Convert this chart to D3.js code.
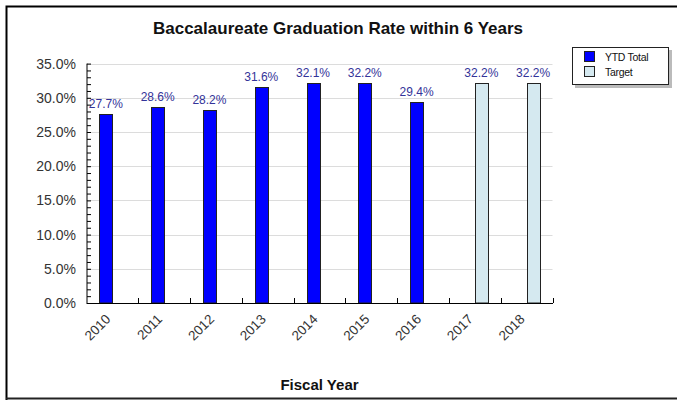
<!DOCTYPE html>
<html><head><meta charset="utf-8">
<script src="https://cdn.jsdelivr.net/npm/d3@7"></script>
<style>body{margin:0;background:#fff}svg{display:block}text{font-family:"Liberation Sans",Arial,sans-serif}</style>
</head><body>
<script>
const years = ["2010","2011","2012","2013","2014","2015","2016","2017","2018"];
const ytdTotal = [27.7, 28.6, 28.2, 31.6, 32.1, 32.2, 29.4, null, null];
const target = [null, null, null, null, null, null, null, 32.2, 32.2];
const seriesNames = ["YTD Total", "Target"];
const seriesColors = ["#0000ff", "#d5e9f0"];
const yTicks = [0, 5, 10, 15, 20, 25, 30, 35];

(function(){
const W = 677, H = 401;
const svg = d3.select("body").append("svg").attr("width", W).attr("height", H);

// outer frame
svg.append("path").attr("d", "M6.5,400 L6.5,6.5 L680,6.5").attr("fill","none").attr("stroke","#000").attr("stroke-width",2);
svg.append("line").attr("x1",6).attr("x2",680).attr("y1",398.5).attr("y2",398.5).attr("stroke","#222").attr("stroke-width",2);

const pL = 86.5, pR = 552.5, pT = 63.6, pB = 303;
const x = d3.scaleBand().domain(years).range([pL, pR]).paddingInner(0).paddingOuter(0);
const y = d3.scaleLinear().domain([0, 35]).range([pB, pT]);
const bw = x.bandwidth();
const x1 = d3.scaleBand().domain(seriesNames).range([bw/2 - 13, bw/2 + 13]);

// title
svg.append("text").attr("x", 338).attr("y", 34).attr("text-anchor","middle")
  .attr("font-size", 17).attr("font-weight","bold").attr("fill","#111")
  .text("Baccalaureate Graduation Rate within 6 Years");

// gridlines
svg.append("g").selectAll("line").data(yTicks.filter(d=>d>0)).join("line")
  .attr("x1", pL).attr("x2", pR).attr("y1", d=>Math.round(y(d))+0.5).attr("y2", d=>Math.round(y(d))+0.5)
  .attr("stroke","#dcdcdc").attr("stroke-width",1);

// bars
const data = [];
years.forEach((yr,i)=>{
  if (ytdTotal[i]!=null) data.push({yr, s:"YTD Total", v:ytdTotal[i], c:seriesColors[0]});
  if (target[i]!=null) data.push({yr, s:"Target", v:target[i], c:seriesColors[1]});
});
const g = svg.append("g");
g.selectAll("rect").data(data).join("rect")
  .attr("x", d=>Math.round(x(d.yr)+x1(d.s))+0.5)
  .attr("y", d=>Math.round(y(d.v))+0.5)
  .attr("width", x1.bandwidth())
  .attr("height", d=>pB - Math.round(y(d.v)) - 0.5)
  .attr("fill", d=>d.c).attr("stroke","#222").attr("stroke-width",1);

g.selectAll("text.v").data(data).join("text").attr("class","v")
  .attr("x", d=>x(d.yr)+x1(d.s)+x1.bandwidth()/2)
  .attr("y", d=>y(d.v)-6)
  .attr("text-anchor","middle").attr("font-size",12).attr("fill","#333399")
  .text(d=>d.v.toFixed(1)+"%");

// y axis
const yAxis = d3.axisRight(y).tickValues(d3.range(0,36,1)).tickSize(4).tickFormat("");
const ya = svg.append("g").attr("transform",`translate(${pL},0)`).call(yAxis);
ya.select(".domain").attr("d", `M0.5,${pT}V${pB}`).attr("stroke","#000");
ya.selectAll(".tick line").attr("stroke","#000").attr("x1",0.5).attr("x2",4.5);
svg.append("g").selectAll("text").data(yTicks).join("text")
  .attr("x", 76).attr("y", d=>y(d)+5).attr("text-anchor","end")
  .attr("font-size",14).attr("fill","#333").text(d=>d.toFixed(1)+"%");

// x axis
svg.append("line").attr("x1",pL).attr("x2",pR+0.5).attr("y1",pB+0.5).attr("y2",pB+0.5).attr("stroke","#000");
svg.append("g").selectAll("line").data(years).join("line")
  .attr("x1", d=>Math.round(x(d)+bw)+0.5).attr("x2", d=>Math.round(x(d)+bw)+0.5)
  .attr("y1", pB).attr("y2", pB-5).attr("stroke","#000");
svg.append("g").selectAll("text").data(years).join("text")
  .attr("transform", d=>`translate(${x(d)+bw/2-1},${pB+17}) rotate(-45)`)
  .attr("text-anchor","end").attr("font-size",13.5).attr("fill","#333").text(d=>d);

svg.append("text").attr("x", (pL+pR)/2).attr("y", 390).attr("text-anchor","middle")
  .attr("font-size",15).attr("font-weight","bold").attr("fill","#111").text("Fiscal Year");

// legend
const lg = svg.append("g");
lg.append("rect").attr("x",575).attr("y",50).attr("width",97).attr("height",38).attr("fill","#bbb");
lg.append("rect").attr("x",572.5).attr("y",47.5).attr("width",96).attr("height",37).attr("fill","#fff").attr("stroke","#222");
seriesNames.forEach((s,i)=>{
  lg.append("rect").attr("x",584.5).attr("y",51.5+i*15).attr("width",10).attr("height",10)
    .attr("fill",seriesColors[i]).attr("stroke","#222");
  lg.append("text").attr("x",605).attr("y",60.5+i*15).attr("font-size",10.5).attr("fill","#111")
    .attr("letter-spacing",-0.3).text(s);
});
})();
</script>
</body></html>
